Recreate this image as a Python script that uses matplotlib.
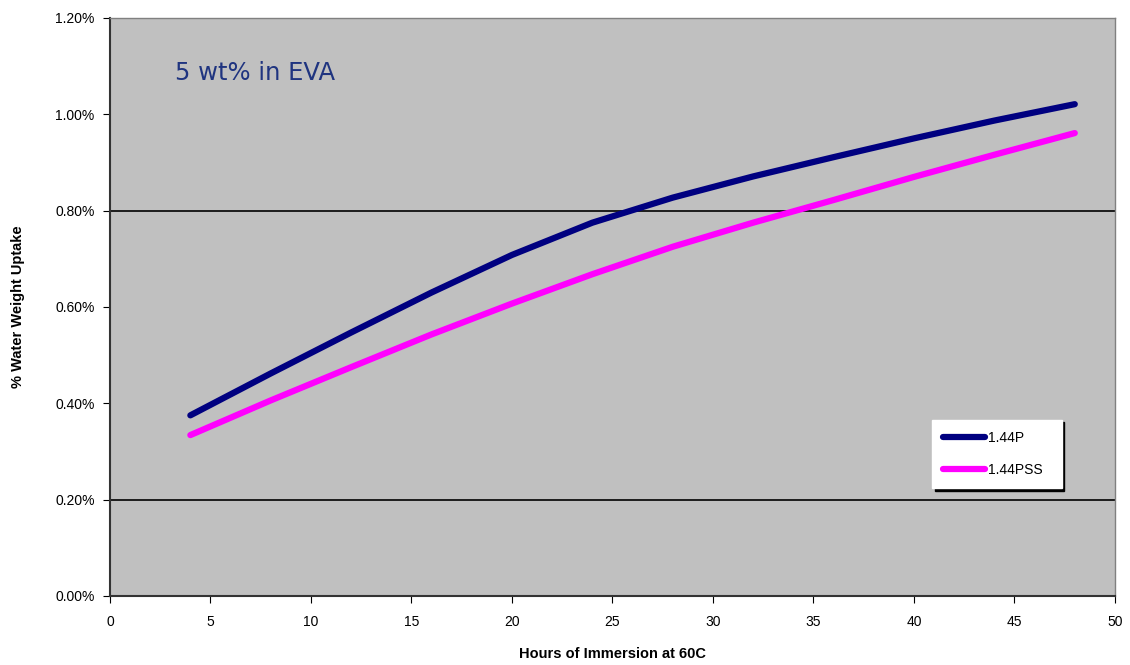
import matplotlib.pyplot as plt
from matplotlib.ticker import FuncFormatter

# hours of immersion at 60C
hours = [4, 8, 12, 16, 20, 24, 28, 32, 36, 40, 44, 48]

# % water weight uptake
uptake_144p = [0.375, 0.462, 0.547, 0.630, 0.708, 0.775, 0.827, 0.871, 0.911, 0.950, 0.987, 1.021]
uptake_144pss = [0.334, 0.406, 0.475, 0.543, 0.607, 0.668, 0.725, 0.775, 0.822, 0.870, 0.916, 0.961]

series_names = ['1.44P', '1.44PSS']
series_colors = ['#000080', '#FF00FF']
grid_levels = [0.2, 0.8]

plt.rcParams['font.family'] = ['Liberation Sans', 'DejaVu Sans']

fig = plt.figure(figsize=(11.3, 6.65), dpi=100)
ax = fig.add_axes([0.0973, 0.1038, 0.8894, 0.8692])
ax.set_facecolor('#C0C0C0')

for lvl in grid_levels:
    ax.axhline(lvl, color='black', linewidth=1.2, zorder=1)

ax.plot(hours, uptake_144p, color=series_colors[0], linewidth=4.5,
        solid_capstyle='round', solid_joinstyle='round', label=series_names[0], zorder=3)
ax.plot(hours, uptake_144pss, color=series_colors[1], linewidth=4.5,
        solid_capstyle='round', solid_joinstyle='round', label=series_names[1], zorder=3)

ax.set_xlim(0, 50)
ax.set_ylim(0, 1.2)
ax.set_xticks(range(0, 51, 5))
ax.set_yticks([0, 0.2, 0.4, 0.6, 0.8, 1.0, 1.2])
ax.yaxis.set_major_formatter(FuncFormatter(lambda v, p: '%.2f%%' % v))
ax.tick_params(axis='both', labelsize=10, direction='out', length=5, color='black')
ax.tick_params(axis='x', pad=9)
ax.tick_params(axis='y', pad=6)

for side in ['left', 'bottom']:
    ax.spines[side].set_color('#333333')
    ax.spines[side].set_linewidth(1.5)
for side in ['top', 'right']:
    ax.spines[side].set_color('#808080')
    ax.spines[side].set_linewidth(1.0)

ax.set_xlabel('Hours of Immersion at 60C', fontsize=10.5, fontweight='bold', labelpad=13)
ax.set_ylabel('% Water Weight Uptake', fontsize=10.5, fontweight='bold', labelpad=22)

ax.text(0.065, 0.905, '5 wt% in EVA', transform=ax.transAxes, fontsize=17.5,
        color='#1F3480', family='DejaVu Sans', va='center')

leg = ax.legend(loc='lower left', bbox_to_anchor=(0.818, 0.187, 0.129, 0.121),
                mode='expand', borderaxespad=0, fontsize=10, frameon=True, fancybox=False,
                shadow={'color': 'black', 'alpha': 1}, handlelength=3.0,
                labelspacing=1.3, borderpad=0.8, handletextpad=0.2)
leg.get_frame().set_facecolor('white')
leg.get_frame().set_edgecolor('white')

fig.savefig('out.png', dpi=100)
